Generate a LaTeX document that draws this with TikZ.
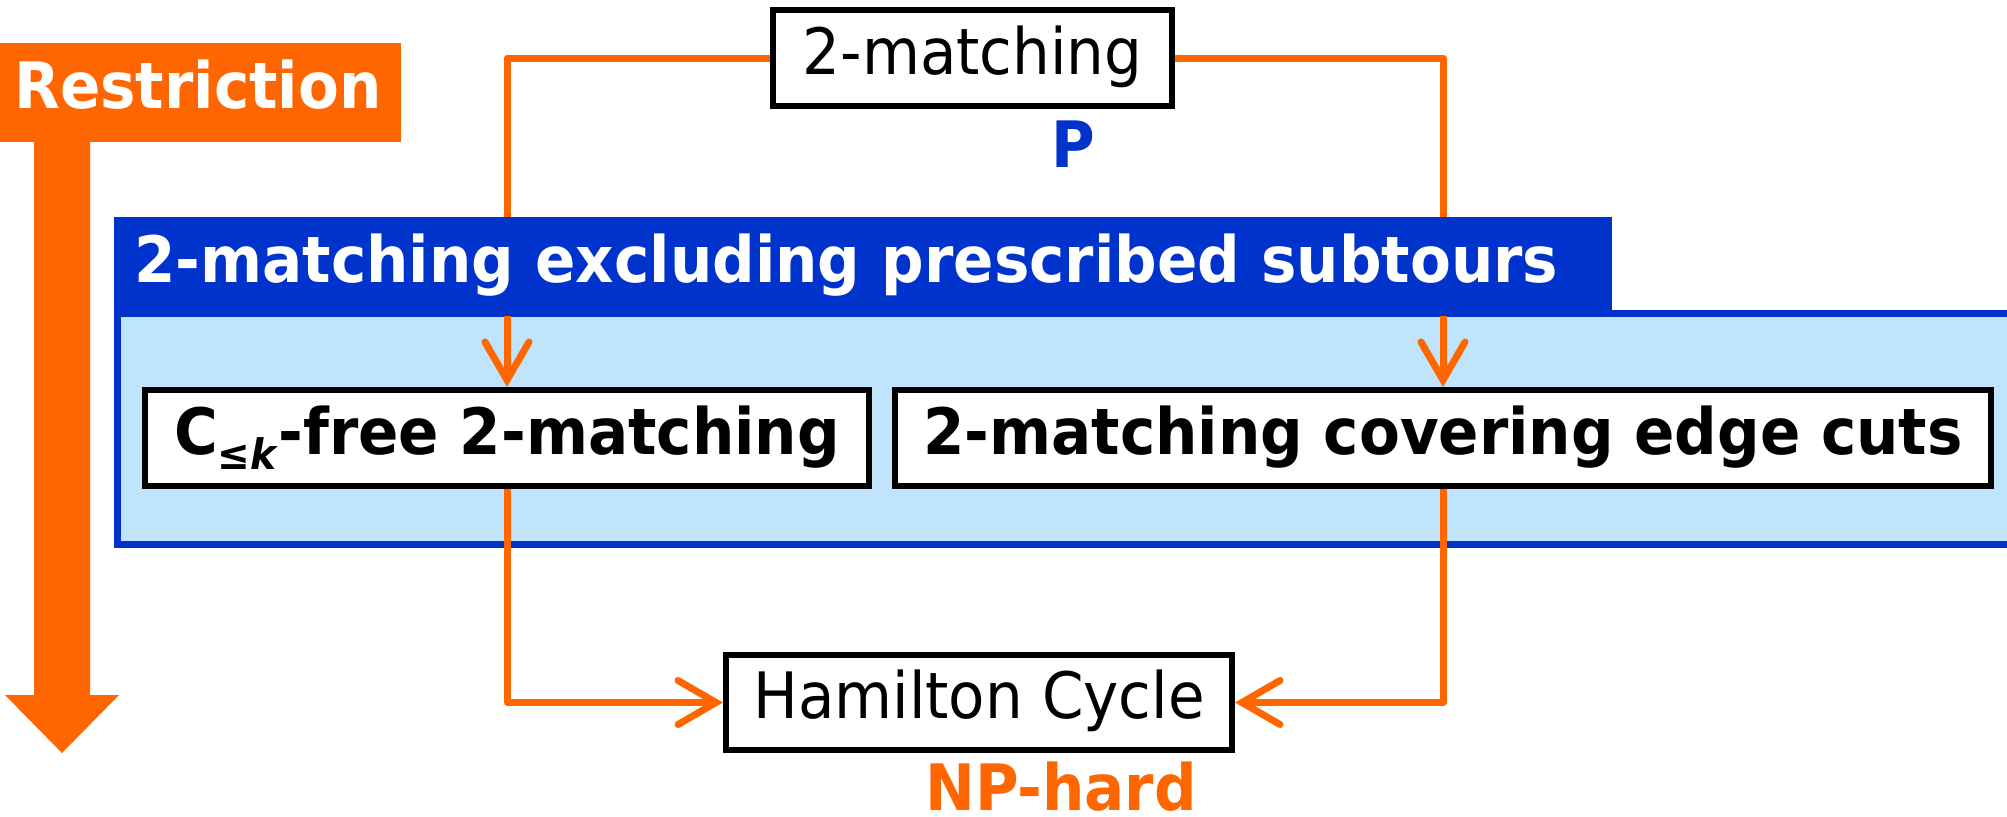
\documentclass[tikz,border=0pt]{standalone}
\usepackage{fontspec}
\setmainfont{DejaVu Sans}[FakeStretch=0.93]
\usetikzlibrary{arrows.meta}
\definecolor{hotorange}{HTML}{FF6600}
\definecolor{deepblue}{HTML}{0033CC}
\definecolor{paleblue}{HTML}{C0E4FC}
\pgfdeclarelayer{panel}
\pgfdeclarelayer{links}
\pgfsetlayers{panel,links,main}
\tikzset{
  big/.style={font=\fontsize{32}{38}\selectfont},
  bigbold/.style={font=\fontsize{32}{38}\selectfont\bfseries},
  probbox/.style={draw=black, line width=3pt, fill=white, inner sep=0pt,
    text height=22pt, text depth=6pt, minimum height=48pt},
  banner/.style={inner ysep=0pt, text height=22pt, text depth=6pt,
    minimum height=49.5pt, align=left, text=white, bigbold},
  link/.style={draw=hotorange, line width=3.5pt, line join=round,
    -{Straight Barb[length=19pt,width=22pt,line cap=round,line join=miter]}},
}
\newcommand{\restricted}{C\raisebox{-7.5pt}{\fontsize{21}{21}\selectfont ≤\textit{k}}}

\begin{document}
\begin{tikzpicture}[x=0.5pt,y=-0.5pt]
\useasboundingbox (0,0) rectangle (2007,816);

% light blue area holding the subtour-excluding problems
\begin{pgfonlayer}{panel}
  \draw[draw=deepblue, fill=paleblue, line width=3.5pt] (117,313) rectangle (2040,544);
\end{pgfonlayer}

% its title bar
\node[banner, fill=deepblue, anchor=west, inner xsep=10pt, text width=729pt]
  (hdr) at (114,266.5) {2-matching excluding prescribed subtours};

% problems
\node[probbox, big, minimum width=199.5pt] (top) at (972.5,58) {2-matching};
\node[probbox, bigbold, minimum width=362pt] (cbox) at (507,438) {\restricted-free 2-matching};
\node[probbox, bigbold, minimum width=548pt] (cover) at (1443,438) {2-matching covering edge cuts};
\node[probbox, big, minimum width=253pt, minimum height=47.5pt] (ham) at (979,702.5) {Hamilton Cycle};

% complexity labels
\node[bigbold, text=deepblue, anchor=base, inner sep=0pt] (plabel) at (1073,167) {P};
\node[bigbold, text=hotorange, anchor=base, inner sep=0pt] (nplabel) at (1061,810) {NP-hard};

% reductions
\begin{pgfonlayer}{links}
  \draw[link] (top.west) -| (cbox.north);
  \draw[link] (top.east) -| (cover.north);
  \draw[link] (cbox.south) |- (ham.west);
  \draw[link] (cover.south) |- (ham.east);
\end{pgfonlayer}

% restriction direction
\node[banner, fill=hotorange, anchor=north west, inner xsep=7pt, text width=186.5pt]
  (restr) at (0,43) {Restriction};
\fill[hotorange] (34,142) -- (90,142) -- (90,695) -- (119,695) -- (62,753)
  -- (5,695) -- (34,695) -- cycle;
\end{tikzpicture}
\end{document}
